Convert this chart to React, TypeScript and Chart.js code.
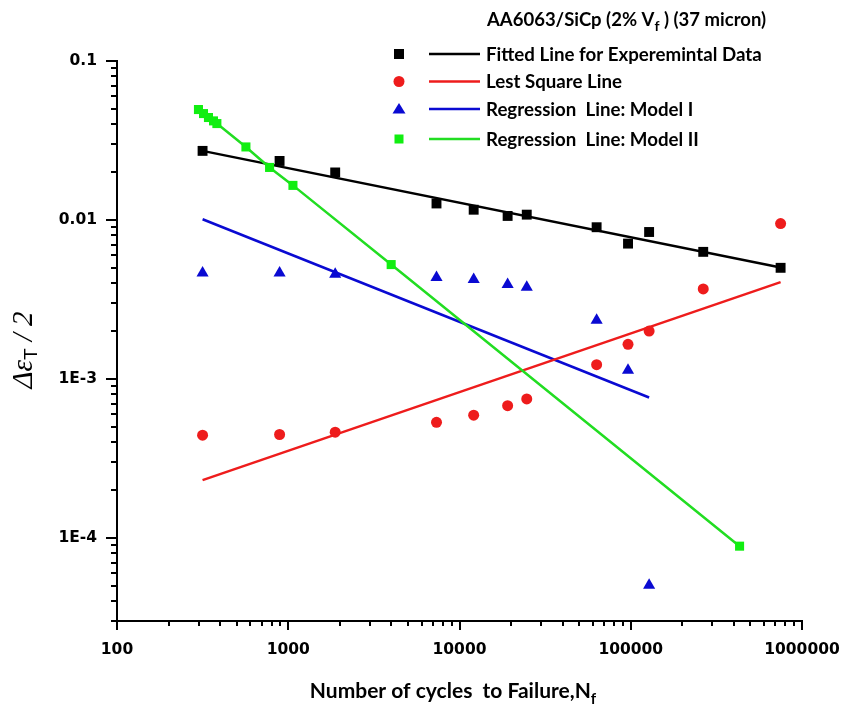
import React, { useEffect, useRef } from 'react';
import { Chart, registerables } from 'chart.js';

Chart.register(...registerables);

// ---- Data ----
const cyclesToFailure = [316, 890, 1880, 7340, 12100, 19100, 24700, 63200, 96400, 128000, 265000, 750000];
const experimentalStrain = [0.0272, 0.0235, 0.0199, 0.0127, 0.0116, 0.0106, 0.0108, 0.0090, 0.0071, 0.0084, 0.0063, 0.0050];
const leastSquareStrain = [4.43e-4, 4.47e-4, 4.62e-4, 5.33e-4, 5.91e-4, 6.79e-4, 7.48e-4, 1.23e-3, 1.65e-3, 2.0e-3, 3.68e-3, 9.49e-3];
const model1Cycles = [316, 890, 1880, 7340, 12100, 19100, 24700, 63200, 96400, 128000];
const model1Strain = [4.64e-3, 4.64e-3, 4.55e-3, 4.34e-3, 4.22e-3, 3.92e-3, 3.77e-3, 2.34e-3, 1.135e-3, 5.04e-5];
const model2Cycles = [299, 320, 342, 366, 383, 566, 778, 1065, 3990, 432000];
const model2Strain = [0.0495, 0.0467, 0.0441, 0.0420, 0.0404, 0.0288, 0.0214, 0.0165, 0.00524, 8.87e-5];

const fittedLineCycles = [316, 750000];
const fittedLineStrain = [0.0272, 0.00502];
const lsqLineCycles = [316, 750000];
const lsqLineStrain = [2.31e-4, 4.06e-3];
const model1LineCycles = [316, 128000];
const model1LineStrain = [0.0101, 7.64e-4];

const xTickValues = [100, 1000, 10000, 100000, 1000000];
const xTickLabels = ['100', '1000', '10000', '100000', '1000000'];
const yTickValues = [1e-4, 1e-3, 0.01, 0.1];
const yTickLabels = ['1E-4', '1E-3', '0.01', '0.1'];

const legendLabels = [
  'Fitted Line for Experemintal Data',
  'Lest Square Line',
  'Regression  Line: Model I',
  'Regression  Line: Model II',
];

const BLACK = '#000000';
const RED = '#ee1c1c';
const BLUE = '#0a0ad2';
const GREEN_LINE = '#22dd22';
const GREEN_PT = '#11ee11';

const pts = (xs: number[], ys: number[]) => ys.map((y, i) => ({ x: xs[i], y }));

type Part = { text: string; font: string; dy?: number };
function drawParts(ctx: CanvasRenderingContext2D, parts: Part[], x: number, y: number, align: 'left' | 'center') {
  let total = 0;
  for (const p of parts) {
    ctx.font = p.font;
    total += ctx.measureText(p.text).width;
  }
  let cx = align === 'center' ? x - total / 2 : x;
  ctx.textAlign = 'left';
  ctx.textBaseline = 'alphabetic';
  for (const p of parts) {
    ctx.font = p.font;
    ctx.fillText(p.text, cx, y + (p.dy || 0));
    cx += ctx.measureText(p.text).width;
  }
}

export default function App() {
  const ref = useRef<HTMLCanvasElement>(null);

  useEffect(() => {
    const canvas = ref.current;
    if (!canvas) return;

    const decorations = {
      id: 'decorations',
      afterDraw(chart: any) {
        const ctx: CanvasRenderingContext2D = chart.ctx;
        const xs = chart.scales.x;
        const ys = chart.scales.y;
        const area = chart.chartArea;
        ctx.save();
        // tick marks
        ctx.strokeStyle = '#000';
        ctx.lineWidth = 2;
        ctx.beginPath();
        for (let d = 2; d <= 6; d++) {
          for (let k = 1; k <= 9; k++) {
            const v = k * Math.pow(10, d);
            if (v < xs.min * 0.9999 || v > xs.max * 1.0001) continue;
            const px = Math.round(xs.getPixelForValue(v));
            const len = k === 1 ? 9 : 5;
            ctx.moveTo(px, area.bottom);
            ctx.lineTo(px, area.bottom + len);
          }
        }
        for (let d = -5; d <= -1; d++) {
          for (let k = 1; k <= 9; k++) {
            const v = k * Math.pow(10, d);
            if (v < ys.min * 0.9999 || v > ys.max * 1.0001) continue;
            const py = Math.round(ys.getPixelForValue(v));
            const len = k === 1 ? 11 : 6;
            ctx.moveTo(area.left, py);
            ctx.lineTo(area.left - len, py);
          }
        }
        ctx.stroke();

        ctx.fillStyle = '#000';
        // title
        drawParts(ctx, [
          { text: 'AA6063/SiCp (2% V', font: 'bold 18.5px Lato' },
          { text: 'f', font: 'bold 14px Lato', dy: 5 },
          { text: ' ) (37 micron)', font: 'bold 18.5px Lato' },
        ], 487, 26, 'left');

        // legend
        const rowsY = [54, 81.5, 109, 139];
        const colors = [BLACK, RED, BLUE, GREEN_LINE];
        rowsY.forEach((ry, i) => {
          const mx = 399;
          if (i === 0) {
            ctx.fillStyle = BLACK;
            ctx.fillRect(mx - 5, ry - 5, 10, 10);
          } else if (i === 1) {
            ctx.fillStyle = RED;
            ctx.beginPath();
            ctx.arc(mx, ry, 5.5, 0, Math.PI * 2);
            ctx.fill();
          } else if (i === 2) {
            ctx.fillStyle = BLUE;
            ctx.beginPath();
            ctx.moveTo(mx, ry - 6);
            ctx.lineTo(mx + 6.5, ry + 4.5);
            ctx.lineTo(mx - 6.5, ry + 4.5);
            ctx.closePath();
            ctx.fill();
          } else {
            ctx.fillStyle = GREEN_PT;
            ctx.fillRect(mx - 4.5, ry - 4.5, 9, 9);
          }
          ctx.strokeStyle = colors[i];
          ctx.lineWidth = 2.5;
          ctx.beginPath();
          ctx.moveTo(429, ry);
          ctx.lineTo(480, ry);
          ctx.stroke();
          ctx.fillStyle = '#000';
          drawParts(ctx, [{ text: legendLabels[i], font: 'bold 18.7px Lato' }], 486, ry + 6.5, 'left');
        });

        // x title
        drawParts(ctx, [
          { text: 'Number of cycles  to Failure,N', font: 'bold 21px Lato' },
          { text: 'f', font: 'bold 15px Lato', dy: 6 },
        ], 453, 698, 'center');

        // y title
        ctx.save();
        ctx.translate(32, 350);
        ctx.rotate(-Math.PI / 2);
        drawParts(ctx, [
          { text: 'Δε', font: 'italic 29px "Liberation Serif"' },
          { text: 'T', font: '19px "Liberation Sans"', dy: 5 },
          { text: ' / 2', font: 'italic 29px "Liberation Serif"' },
        ], 0, 0, 'center');
        ctx.restore();

        ctx.restore();
      },
    };

    const chart = new Chart(canvas, {
      type: 'scatter',
      data: {
        datasets: [
          {
            label: 'exp',
            data: pts(cyclesToFailure, experimentalStrain),
            pointStyle: 'rect',
            pointRadius: 7,
            pointBackgroundColor: BLACK,
            pointBorderWidth: 0,
            showLine: false,
            order: 1,
          },
          {
            label: 'fit',
            data: pts(fittedLineCycles, fittedLineStrain),
            showLine: true,
            borderColor: BLACK,
            borderWidth: 2.5,
            pointRadius: 0,
            order: 2,
          },
          {
            label: 'lsqpts',
            data: pts(cyclesToFailure, leastSquareStrain),
            pointStyle: 'circle',
            pointRadius: 5.5,
            pointBackgroundColor: RED,
            pointBorderWidth: 0,
            showLine: false,
            order: 1,
          },
          {
            label: 'lsq',
            data: pts(lsqLineCycles, lsqLineStrain),
            showLine: true,
            borderColor: RED,
            borderWidth: 2.5,
            pointRadius: 0,
            order: 2,
          },
          {
            label: 'm1pts',
            data: pts(model1Cycles, model1Strain),
            pointStyle: 'triangle',
            pointRadius: 7,
            pointBackgroundColor: BLUE,
            pointBorderWidth: 0,
            showLine: false,
            order: 1,
          },
          {
            label: 'm1',
            data: pts(model1LineCycles, model1LineStrain),
            showLine: true,
            borderColor: BLUE,
            borderWidth: 2.5,
            pointRadius: 0,
            order: 2,
          },
          {
            label: 'm2',
            data: pts(model2Cycles, model2Strain),
            showLine: true,
            borderColor: GREEN_LINE,
            borderWidth: 2.5,
            pointStyle: 'rect',
            pointRadius: 6.4,
            pointBackgroundColor: GREEN_PT,
            pointBorderWidth: 0,
            order: 0,
          },
        ],
      },
      options: {
        responsive: false,
        animation: false,
        devicePixelRatio: 1,
        layout: { padding: { top: 61, right: 54, left: 0, bottom: 0 } },
        plugins: { legend: { display: false }, tooltip: { enabled: false }, title: { display: false } },
        scales: {
          x: {
            type: 'logarithmic',
            min: 100,
            max: 1000000,
            grid: { display: true, drawOnChartArea: false, drawTicks: true, tickLength: 10, color: 'rgba(0,0,0,0)' },
            border: { display: true, color: '#000', width: 2 },
            afterBuildTicks: (scale: any) => {
              scale.ticks = xTickValues.map((v) => ({ value: v }));
            },
            afterFit: (scale: any) => {
              scale.height = 90;
            },
            ticks: {
              autoSkip: false,
              maxRotation: 0,
              padding: 10,
              color: '#000',
              font: { family: '"DejaVu Sans"', weight: 'bold', size: 15.5 },
              callback: (_v: any, i: number) => xTickLabels[i],
            },
          },
          y: {
            type: 'logarithmic',
            min: 3e-5,
            max: 0.1,
            grid: { display: true, drawOnChartArea: false, drawTicks: true, tickLength: 11, color: 'rgba(0,0,0,0)' },
            border: { display: true, color: '#000', width: 2 },
            afterBuildTicks: (scale: any) => {
              scale.ticks = yTickValues.map((v) => ({ value: v }));
            },
            afterFit: (scale: any) => {
              scale.width = 117;
            },
            ticks: {
              autoSkip: false,
              padding: 9,
              color: '#000',
              font: { family: '"DejaVu Sans"', weight: 'bold', size: 15.5 },
              callback: (_v: any, i: number) => yTickLabels[i],
            },
          },
        },
      },
      plugins: [decorations],
    } as any);

    return () => chart.destroy();
  }, []);

  return (
    <div style={{ position: 'fixed', left: 0, top: 0, width: 856, height: 711, background: '#fff' }}>
      <canvas ref={ref} width={856} height={711} style={{ display: 'block', width: 856, height: 711 }} />
    </div>
  );
}
